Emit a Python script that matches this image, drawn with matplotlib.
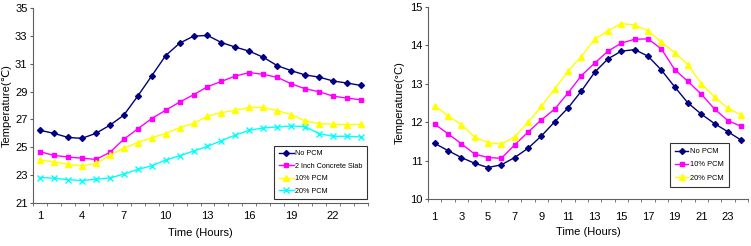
import matplotlib.pyplot as plt
import numpy as np

plt.rcParams['font.family'] = ['Liberation Sans', 'DejaVu Sans']

hours = np.arange(1, 25)

# left chart
left_no_pcm = [26.22, 26.0, 25.71, 25.64, 26.0, 26.58, 27.3, 28.67, 30.12, 31.58, 32.47, 32.98,
               33.03, 32.52, 32.19, 31.9, 31.46, 30.86, 30.5, 30.19, 30.04, 29.76, 29.61, 29.44]
left_slab = [24.68, 24.42, 24.3, 24.22, 24.13, 24.63, 25.57, 26.32, 27.06, 27.66, 28.24, 28.77,
             29.35, 29.73, 30.12, 30.36, 30.24, 30.02, 29.56, 29.2, 28.99, 28.67, 28.53, 28.41]
left_pcm10 = [24.1, 23.93, 23.79, 23.67, 23.84, 24.42, 24.94, 25.33, 25.69, 25.98, 26.41, 26.72,
              27.23, 27.49, 27.66, 27.86, 27.86, 27.64, 27.33, 26.89, 26.7, 26.65, 26.63, 26.65]
left_pcm20 = [22.83, 22.78, 22.68, 22.61, 22.71, 22.8, 23.07, 23.41, 23.67, 24.08, 24.39, 24.73,
              25.07, 25.47, 25.88, 26.22, 26.39, 26.46, 26.53, 26.48, 25.98, 25.79, 25.79, 25.74]

# right chart
right_no_pcm = [11.45, 11.26, 11.08, 10.93, 10.82, 10.89, 11.08, 11.32, 11.64, 12.01, 12.37, 12.81,
                13.3, 13.65, 13.85, 13.89, 13.72, 13.36, 12.92, 12.5, 12.21, 11.96, 11.75, 11.53]
right_pcm10 = [11.95, 11.7, 11.44, 11.17, 11.08, 11.06, 11.41, 11.74, 12.06, 12.34, 12.76, 13.21,
               13.54, 13.85, 14.06, 14.16, 14.17, 13.91, 13.37, 13.06, 12.73, 12.34, 12.04, 11.89]
right_pcm20 = [12.43, 12.17, 11.94, 11.61, 11.47, 11.43, 11.62, 12.0, 12.41, 12.87, 13.33, 13.71,
               14.16, 14.38, 14.57, 14.53, 14.38, 14.09, 13.81, 13.5, 13.0, 12.65, 12.36, 12.19]

fig = plt.figure(figsize=(7.51, 2.46), dpi=100)
W, H = 751, 246
ax1 = fig.add_axes([33 / W, 1 - 203 / H, (368 - 33) / W, (203 - 8) / H])
ax2 = fig.add_axes([428 / W, 1 - 199 / H, (748 - 428) / W, (199 - 7) / H])

navy = '#000080'
pink = '#FF00FF'
yellow = '#FFFF00'
cyan = '#00FFFF'

ax1.plot(hours, left_no_pcm, color=navy, marker='D', ms=3, lw=1, label='No PCM')
ax1.plot(hours, left_slab, color=pink, marker='s', ms=3.5, lw=1, label='2 Inch Concrete Slab')
ax1.plot(hours, left_pcm10, color=yellow, marker='^', ms=4, lw=1, label='10% PCM')
ax1.plot(hours, left_pcm20, color=cyan, marker='x', ms=4, mew=1, lw=1, label='20% PCM')

ax2.plot(hours, right_no_pcm, color=navy, marker='D', ms=3, lw=1, label='No PCM')
ax2.plot(hours, right_pcm10, color=pink, marker='s', ms=3.5, lw=1, label='10% PCM')
ax2.plot(hours, right_pcm20, color=yellow, marker='^', ms=4, lw=1, label='20% PCM')

for ax in (ax1, ax2):
    ax.set_xlim(0.5, 24.5)
    ax.spines['top'].set_visible(False)
    ax.spines['right'].set_visible(False)
    for s in ('left', 'bottom'):
        ax.spines[s].set_color('#606060')
    ax.set_xticks(np.arange(0.5, 25, 1), minor=True)
    ax.tick_params(axis='x', which='major', length=0, labelsize=8)
    ax.tick_params(axis='x', which='minor', length=2.5, direction='out', color='#606060')
    ax.tick_params(axis='y', labelsize=8, length=2.5, direction='out', color='#606060', pad=1.5)

ax1.tick_params(axis='x', which='major', pad=6)
ax2.tick_params(axis='x', which='major', pad=9)

ax1.set_ylim(21, 35)
ax1.set_yticks(np.arange(21, 36, 2))
ax1.set_xticks(np.arange(1, 25, 3))
ax1.set_xlabel('Time (Hours)', fontsize=8, labelpad=5)
ax1.set_ylabel('Temperature(℃)', fontsize=8, labelpad=2.5)

ax2.set_ylim(10, 15)
ax2.set_yticks(np.arange(10, 16, 1))
ax2.set_xticks(np.arange(1, 25, 2))
ax2.set_xlabel('Time (Hours)', fontsize=8, labelpad=4)
ax2.set_ylabel('Temperature(°C)', fontsize=8, labelpad=4)

leg1 = ax1.legend(loc='lower right', bbox_to_anchor=(0.997, 0.02), fontsize=5.2, frameon=True,
                  fancybox=False, edgecolor='black', handlelength=2.1, borderpad=0.6,
                  labelspacing=0.75, handletextpad=0.2, borderaxespad=0)
leg1.get_frame().set_linewidth(0.8)
leg2 = ax2.legend(loc='lower right', bbox_to_anchor=(0.94, 0.0625), fontsize=5.4, frameon=True,
                  fancybox=False, edgecolor='black', handlelength=1.8, borderpad=0.7,
                  labelspacing=0.8, handletextpad=0.2, borderaxespad=0)
leg2.get_frame().set_linewidth(0.8)

fig.savefig('out.png', dpi=100)
